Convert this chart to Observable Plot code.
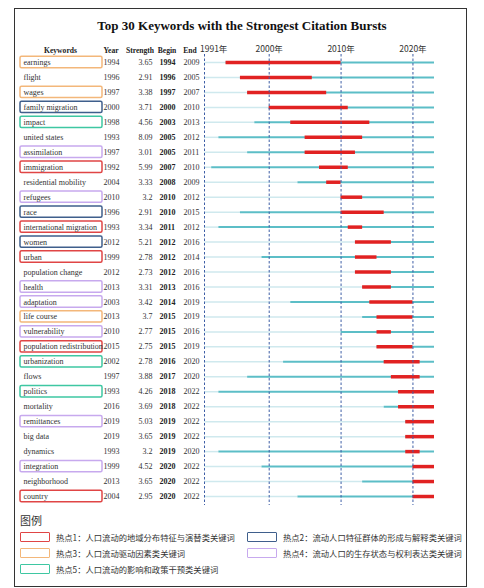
<!DOCTYPE html>
<html><head><meta charset="utf-8">
<script src="https://cdn.jsdelivr.net/npm/d3@7"></script>
<script src="https://cdn.jsdelivr.net/npm/@observablehq/plot@0.6"></script>
<style>
body{margin:0;background:#fff;width:484px;height:588px;position:relative;overflow:hidden}
#border{position:absolute;left:14px;top:8px;width:451px;height:577px;border:1.5px solid #333;box-sizing:content-box}
#title{position:absolute;left:0;top:18px;width:484px;text-align:center;font:bold 13px "Liberation Serif",serif;color:#111}
#chart{position:absolute;left:0;top:0}
#legend{position:absolute;left:20px;top:512px;font-family:"Noto Sans CJK SC",sans-serif;color:#333}
#legend .hd{font-size:11px;margin-bottom:3px}
.item{position:absolute;font-size:8.3px;white-space:nowrap;display:flex;align-items:center}
.item span.b{display:inline-block;width:28px;height:8px;border:1.5px solid;margin-right:6px;border-radius:1px}
</style></head>
<body>
<div id="border"></div>
<div id="chart"></div>
<div id="title">Top 30 Keywords with the Strongest Citation Bursts</div>
<div id="legend"><div class="hd">图例</div></div>
<script>
const keywords = ["earnings","flight","wages","family migration","impact","united states","assimilation","immigration","residential mobility","refugees","race","international migration","women","urban","population change","health","adaptation","life course","vulnerability","population redistribution","urbanization","flows","politics","mortality","remittances","big data","dynamics","integration","neighborhood","country"];
const years = [1994,1996,1997,2000,1998,1993,1997,1992,2004,2010,1996,1993,2012,1999,2012,2013,2003,2013,2010,2015,2002,1997,1993,2016,2019,2019,1993,1999,2013,2004];
const strengths = ["3.65","2.91","3.38","3.71","4.56","8.09","3.01","5.99","3.33","3.2","2.91","3.34","5.21","2.78","2.73","3.31","3.42","3.7","2.77","2.75","2.78","3.88","4.26","3.69","5.03","3.65","3.2","4.52","3.65","2.95"];
const begins = [1994,1996,1997,2000,2003,2005,2005,2007,2008,2010,2010,2011,2012,2012,2012,2013,2014,2015,2015,2015,2016,2017,2018,2018,2019,2019,2019,2020,2020,2020];
const ends = [2009,2005,2007,2010,2013,2012,2011,2010,2009,2012,2015,2012,2016,2014,2016,2016,2019,2019,2016,2019,2020,2020,2022,2022,2022,2022,2020,2022,2022,2022];
const hotspots = [3,0,3,2,5,0,4,1,0,4,2,1,2,1,0,4,4,3,4,1,5,0,5,0,4,0,0,4,0,1];
const headers = ["Keywords","Year","Strength","Begin","End"];
const tickYears = [1991,2000,2010,2020];
const tickLabels = ["1991年","2000年","2010年","2020年"];
const startYear = 1991, endYear = 2022;
const hotColors = {1:"#e04545",2:"#3f5f8c",3:"#f3b77a",4:"#c7a9ee",5:"#3ec7a2"};
const legendLabels = ["热点1：人口流动的地域分布特征与演替类关键词","热点2：流动人口特征群体的形成与解释类关键词","热点3：人口流动驱动因素类关键词","热点4：流动人口的生存状态与权利表达类关键词","热点5：人口流动的影响和政策干预类关键词"];

const rows = keywords.map((k,i)=>({keyword:k, year:years[i], strength:strengths[i], begin:begins[i], end:ends[i], hot:hotspots[i]}));
const ticks = tickYears.map((t,i)=>({x:t,label:tickLabels[i]}));
const headerCenters = [60,110.5,139.5,166.5,189.5];
const serif = "Liberation Serif, Times New Roman, serif";

const plot = Plot.plot({
  width:484, height:512,
  marginLeft:0, marginRight:0, marginTop:0, marginBottom:0,
  x:{domain:[startYear,endYear+1], range:[204,434], axis:null},
  y:{type:"band", domain:keywords, range:[54.5,503.5], padding:0, round:false, axis:null},
  style:{fontFamily:serif, background:"transparent"},
  marks:[
    Plot.cell(rows.filter(d=>d.hot>0), {y:"keyword", fill:"white", stroke:d=>hotColors[d.hot], strokeWidth:1.5, rx:1.5,
      insetLeft:20, insetRight:382, insetTop:1.8, insetBottom:1.8}),
    Plot.text(rows, {y:"keyword", text:"keyword", frameAnchor:"left", dx:23, textAnchor:"start", fontSize:8, fill:"#333"}),
    Plot.text(rows, {y:"keyword", text:d=>String(d.year), frameAnchor:"left", dx:103, textAnchor:"start", fontSize:8, fill:"#333"}),
    Plot.text(rows, {y:"keyword", text:"strength", frameAnchor:"left", dx:152, textAnchor:"end", fontSize:8, fill:"#333"}),
    Plot.text(rows, {y:"keyword", text:d=>String(d.begin), frameAnchor:"left", dx:159, textAnchor:"start", fontSize:8, fontWeight:"bold", fill:"#222"}),
    Plot.text(rows, {y:"keyword", text:d=>String(d.end), frameAnchor:"left", dx:183, textAnchor:"start", fontSize:8, fill:"#333"}),
    ...headers.map((h,i)=>Plot.text([h], {text:d=>d, frameAnchor:"top-left", dx:headerCenters[i], dy:47, textAnchor:"middle", fontSize:7.6, fontWeight:"bold", fill:"#222"})),
    Plot.ruleY(rows, {y:"keyword", x1:startYear, x2:"year", stroke:"#cfe9ee", strokeWidth:1.5}),
    Plot.ruleY(rows, {y:"keyword", x1:"year", x2:endYear+1, stroke:"#5cbec7", strokeWidth:2}),
    Plot.ruleY(rows, {y:"keyword", x1:"begin", x2:d=>d.end+1, stroke:"#e12222", strokeWidth:3.5}),
    Plot.ruleX(ticks, {x:"x", insetTop:54, insetBottom:7, stroke:"#3e5ea6", strokeWidth:1, strokeDasharray:"2.5,2"}),
    Plot.text(ticks.slice(0,1), {x:"x", text:"label", frameAnchor:"top", dy:45, dx:-4.5, textAnchor:"start", fontSize:8.5, fill:"#333", fontFamily:"Noto Sans CJK SC, sans-serif"}),
    Plot.text(ticks.slice(1), {x:"x", text:"label", frameAnchor:"top", dy:45, fontSize:8.5, fill:"#333", fontFamily:"Noto Sans CJK SC, sans-serif"})
  ]
});
document.getElementById("chart").appendChild(plot);

const lg = document.getElementById("legend");
const pos = [[0,19],[227,19],[0,35],[227,35],[0,51]];
[1,2,3,4,5].forEach((h,i)=>{
  const d=document.createElement("div"); d.className="item";
  d.style.left=pos[i][0]+"px"; d.style.top=pos[i][1]+"px";
  d.innerHTML=`<span class="b" style="border-color:${hotColors[h]}"></span>${legendLabels[i]}`;
  lg.appendChild(d);
});
</script>
</body></html>
